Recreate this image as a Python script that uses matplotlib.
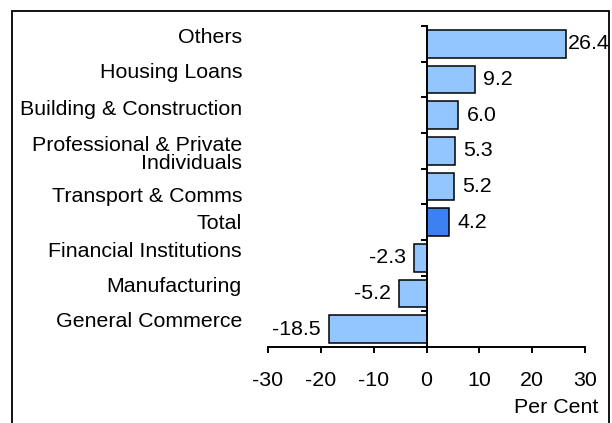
#!/usr/bin/env python3
# loan growth by sector, horizontal bars with value labels

import matplotlib
matplotlib.use('Agg')
import matplotlib.pyplot as plt
import matplotlib.transforms as mtransforms
from matplotlib.patches import Rectangle

sectors = ['Others', 'Housing Loans', 'Building & Construction',
           'Professional & Private\nIndividuals', 'Transport & Comms',
           'Total', 'Financial Institutions', 'Manufacturing',
           'General Commerce']
growth = [26.4, 9.2, 6.0, 5.3, 5.2, 4.2, -2.3, -5.2, -18.5]
xticks = [-30, -20, -10, 0, 10, 20, 30]

light = '#93C6FF'
dark = '#3C80F2'
# pixel nudges of the category labels (down is positive), as in the original
label_nudge = [-6, -6.5, -6, 4, 10.5, 1, -6, -6.5, -8]

plt.rcParams['font.family'] = ['Liberation Sans', 'DejaVu Sans']
plt.rcParams['font.size'] = 15.4

dpi = 100
fig = plt.figure(figsize=(6.12, 4.23), dpi=dpi)
ax = fig.add_axes([268 / 612, 1 - 347 / 423, 317 / 612, 321 / 423])

ypos = list(range(len(sectors)))
colors = [dark if s == 'Total' else light for s in sectors]
ax.barh(ypos, growth, height=0.77, color=colors, edgecolor='black',
        linewidth=1.1, zorder=2)

ax.set_xlim(-30, 30)
ax.set_ylim(len(sectors) - 0.5, -0.5)
ax.set_xticks(xticks)
ax.set_xticklabels([str(t) for t in xticks])
ax.set_yticks([i - 0.5 for i in range(len(sectors) + 1)])
ax.set_yticklabels([])

for s in ['top', 'right']:
  ax.spines[s].set_visible(False)
ax.spines['left'].set_position(('data', 0))
ax.spines['left'].set_linewidth(1.4)
ax.spines['bottom'].set_linewidth(1.4)
ax.spines['left'].set_zorder(3)
ax.tick_params(axis='x', direction='out', length=4, width=1.4, pad=13)
ax.tick_params(axis='y', direction='out', length=4, width=1.4)
ax.patch.set_visible(False)

# category labels to the left of the plot area
trans = mtransforms.blended_transform_factory(fig.transFigure, ax.transData)
for i, (name, nudge) in enumerate(zip(sectors, label_nudge)):
  off = mtransforms.ScaledTranslation(0, -nudge / dpi, fig.dpi_scale_trans)
  ax.text(242 / 612, i, name, transform=trans + off, ha='right',
          va='center', multialignment='right', linespacing=0.95,
          clip_on=False)

# value labels at the bar ends
gmax = max(growth)
for i, v in enumerate(growth):
  pad = 1.5 if v == gmax else 6
  if v >= 0:
    ax.annotate(f'{v:.1f}', (v, i), xytext=(pad, 0), textcoords='offset points',
                ha='left', va='center', annotation_clip=False)
  else:
    ax.annotate(f'{v:.1f}', (v, i), xytext=(-6, 0), textcoords='offset points',
                ha='right', va='center', annotation_clip=False)

fig.text(598 / 612, 1 - 407 / 423, 'Per Cent', ha='right', va='center')

# outer frame, runs off the bottom of the image
fig.patches.append(Rectangle((11.5 / 612, -0.05), 597 / 612, 1.05 - 11.5 / 423,
                             transform=fig.transFigure, fill=False,
                             edgecolor='black', linewidth=1.3))

fig.savefig('out.png', dpi=dpi)
